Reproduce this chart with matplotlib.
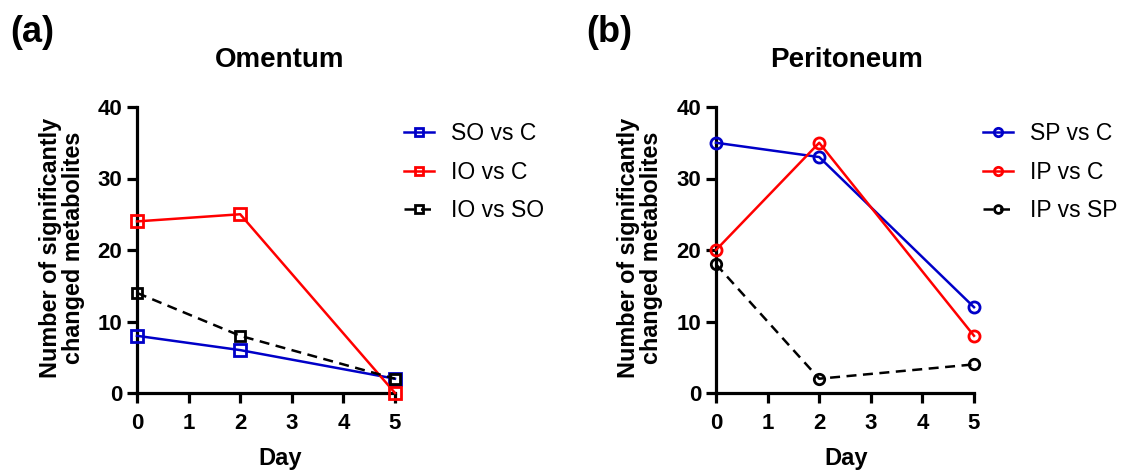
import matplotlib
matplotlib.use("Agg")
import matplotlib.pyplot as plt

plt.rcParams["font.family"] = ["Liberation Sans", "DejaVu Sans"]

days = [0, 2, 5]

# Omentum
so_vs_c = [8, 6, 2]
io_vs_c = [24, 25, 0]
io_vs_so = [14, 8, 2]

# Peritoneum
sp_vs_c = [35, 33, 12]
ip_vs_c = [20, 35, 8]
ip_vs_sp = [18, 2, 4]

x_ticks = [0, 1, 2, 3, 4, 5]
y_ticks = [0, 10, 20, 30, 40]

BLUE = "#0000c8"
RED = "#ff0000"
BLACK = "#000000"

W, H = 1126, 470
fig = plt.figure(figsize=(W / 100, H / 100), dpi=100)


def fx(px):
    return px / W


def fy(py):
    return 1 - py / H


def style_axes(ax):
    ax.set_xlim(0, 5)
    ax.set_ylim(0, 40)
    ax.set_xticks(x_ticks)
    ax.set_yticks(y_ticks)
    for side in ("top", "right"):
        ax.spines[side].set_visible(False)
    for side in ("left", "bottom"):
        ax.spines[side].set_linewidth(2.3)
    ax.tick_params(width=2.3, length=7.5, labelsize=16)
    ax.tick_params(axis="x", pad=7)
    ax.tick_params(axis="y", pad=3)
    for lab in ax.get_xticklabels() + ax.get_yticklabels():
        lab.set_fontweight("bold")


def draw_panel(left_px, series, marker, title, title_x, day_x, label_x, tag, tag_x):
    ax = fig.add_axes((fx(left_px), fy(393), fx(258), 286 / H))
    style_axes(ax)
    for values, color, dashed, name in series:
        ax.plot(
            days,
            values,
            color=color,
            linestyle=(0, (4, 2.6)) if dashed else "-",
            linewidth=1.8,
            marker=marker,
            markersize=7.5 if dashed else 8,
            markerfacecolor="none",
            markeredgecolor=color,
            markeredgewidth=2.0,
            clip_on=False,
            label=name,
            zorder=3,
        )
    fig.text(fx(title_x), fy(60), title, fontsize=20, fontweight="bold",
             ha="center", va="center")
    fig.text(fx(day_x), fy(458), "Day", fontsize=17, fontweight="bold",
             ha="center", va="center")
    fig.text(fx(label_x), fy(248),
             "Number of significantly\nchanged metabolites",
             fontsize=16.8, fontweight="bold", rotation=90,
             ha="center", va="center", linespacing=1.0)
    fig.text(fx(tag_x), fy(33), tag, fontsize=26, fontweight="bold",
             ha="center", va="center")
    ax.legend(
        loc="upper left",
        bbox_to_anchor=(fx(left_px + 267), fy(122)),
        bbox_transform=fig.transFigure,
        frameon=False,
        fontsize=16.5,
        borderpad=0,
        borderaxespad=0,
        handlelength=1.3,
        handletextpad=0.75,
        labelspacing=0.68,
        markerscale=0.75,
    )
    return ax


draw_panel(
    137,
    [(so_vs_c, BLUE, False, "SO vs C"),
     (io_vs_c, RED, False, "IO vs C"),
     (io_vs_so, BLACK, True, "IO vs SO")],
    "s", "Omentum", 280, 280, 62, "(a)", 32,
)

draw_panel(
    716,
    [(sp_vs_c, BLUE, False, "SP vs C"),
     (ip_vs_c, RED, False, "IP vs C"),
     (ip_vs_sp, BLACK, True, "IP vs SP")],
    "o", "Peritoneum", 847, 846, 640, "(b)", 609,
)

fig.savefig("out.png", dpi=100)
